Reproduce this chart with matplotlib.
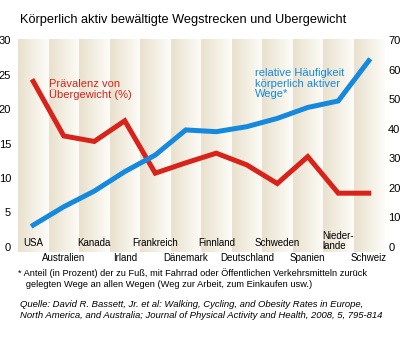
import matplotlib.pyplot as plt
import numpy as np

plt.rcParams['font.family'] = ['Liberation Sans', 'DejaVu Sans']

laender = ['USA', 'Australien', 'Kanada', 'Irland', 'Frankreich', 'Dänemark',
           'Finnland', 'Deutschland', 'Schweden', 'Spanien', 'Nieder-\nlande', 'Schweiz']
uebergewicht = [24.0, 16.1, 15.3, 18.3, 10.7, 12.2, 13.6, 11.9, 9.2, 13.1, 7.8, 7.8]
aktive_wege = [7.4, 13.6, 18.9, 25.5, 31.1, 39.6, 39.0, 40.7, 43.5, 47.2, 49.4, 63.0]
links_ticks = [0, 5, 10, 15, 20, 25, 30]
rechts_ticks = [0, 10, 20, 30, 40, 50, 60, 70]

rot = '#d8231b'
blau = '#1589dd'

fig = plt.figure(figsize=(4, 3.4), dpi=100)
ax = fig.add_axes([0.045, 0.259, 0.915, 0.626])
x = np.arange(len(laender))

# Hintergrundstreifen mit Verlauf (beige -> weiss)
verlauf = np.linspace(0, 1, 64)
c0 = np.array([233, 225, 205]) / 255
c1 = np.array([253, 252, 248]) / 255
img = (c0[None, :] * (1 - verlauf[:, None]) + c1[None, :] * verlauf[:, None])[None, :, :]
for i in x:
    ax.imshow(img, extent=[i - 0.5, i + 0.5, -1, 31], aspect='auto', zorder=0,
              interpolation='bilinear')

ax.set_xlim(-0.5, len(laender) - 0.5)
ax.set_ylim(-0.72, 30.14)
ax.plot(x, uebergewicht, color=rot, lw=3.6, solid_joinstyle='miter', zorder=3)

ax2 = ax.twinx()
ax2.set_ylim(-0.72 * 70 / 30, 30.14 * 70 / 30)
ax2.plot(x, aktive_wege, color=blau, lw=3.6, solid_joinstyle='miter', zorder=3)

for a in (ax, ax2):
    for s in a.spines.values():
        s.set_visible(False)
    a.set_xticks([])
ax.set_yticks(links_ticks)
ax2.set_yticks(rechts_ticks)
ax.tick_params(axis='y', length=0, pad=5, labelsize=8)
ax2.tick_params(axis='y', length=0, pad=3, labelsize=8)

# Länderbeschriftung abwechselnd oben/unten
for i, name in enumerate(laender):
    if i % 2 == 0:
        yy = 0.042 if '\n' not in name else 0.05
    else:
        yy = -0.028
    ax.text(i, yy, name, transform=ax.get_xaxis_transform(), ha='center', va='center',
            fontsize=7, multialignment='left', linespacing=0.95)

ax.text(0.52, 24.4, 'Prävalenz von\nÜbergewicht (%)', color=rot, fontsize=8,
        va='top', ha='left', linespacing=1.05)
ax2.text(7.27, 60.5, 'relative Häufigkeit\nkörperlich aktiver\nWege*', color=blau,
         fontsize=8, va='top', ha='left', linespacing=1.05)

fig.text(0.05, 0.94, 'Körperlich aktiv bewältigte Wegstrecken und Ubergewicht',
         fontsize=9.2, va='center', ha='left')
fig.text(0.045, 0.212, '* Anteil (in Prozent) der zu Fuß, mit Fahrrad oder Öffentlichen Verkehrsmitteln zurück\n'
         '   gelegten Wege an allen Wegen (Weg zur Arbeit, zum Einkaufen usw.)',
         fontsize=6.7, va='top', ha='left', linespacing=1.3)
fig.text(0.05, 0.118, 'Quelle: David R. Bassett, Jr. et al: Walking, Cycling, and Obesity Rates in Europe,\n'
         'North America, and Australia; Journal of Physical Activity and Health, 2008, 5, 795-814',
         fontsize=6.8, style='italic', va='top', ha='left', linespacing=1.25)

plt.savefig('out.png', dpi=100)
